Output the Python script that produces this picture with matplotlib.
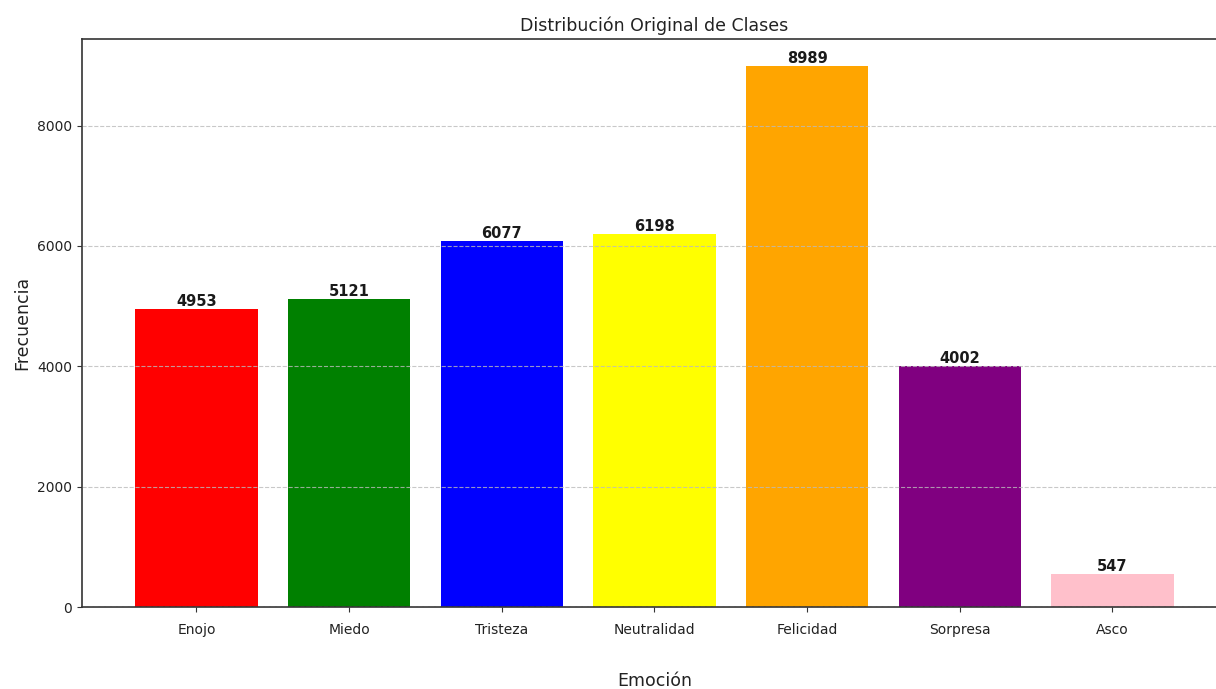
import matplotlib
matplotlib.use("Agg")
import matplotlib.pyplot as plt

# Class counts per emotion
emociones = ["Enojo", "Miedo", "Tristeza", "Neutralidad", "Felicidad", "Sorpresa", "Asco"]
frecuencias = [4953, 5121, 6077, 6198, 8989, 4002, 547]
colores = ["red", "green", "blue", "yellow", "orange", "purple", "pink"]

plt.rcParams["font.family"] = ["DejaVu Sans"]

fig = plt.figure(figsize=(12.16, 6.89), dpi=100)
ax = fig.add_axes([0.0674, 0.119, 0.9416, 0.8244])

x = range(len(emociones))
bars = ax.bar(x, frecuencias, color=colores, width=0.8)

for rect, val in zip(bars, frecuencias):
    ax.text(rect.get_x() + rect.get_width() / 2, val, str(val),
            ha="center", va="bottom", fontsize=10.5, fontweight="bold",
            color="#1a1a1a")

ax.set_xticks(list(x))
ax.set_xticklabels(emociones, fontsize=10, color="#222222")
ax.set_xlim(-0.75, 6.75)
ax.tick_params(axis="x", pad=8, color="#333333")
ax.tick_params(axis="y", labelsize=10, color="#333333", labelcolor="#222222")

for spine in ax.spines.values():
    spine.set_color("#333333")
    spine.set_linewidth(1.2)

ax.yaxis.grid(True, linestyle="--", color="#bbbbbb", alpha=0.8)
ax.set_axisbelow(False)

ax.set_title("Distribución Original de Clases", fontsize=12.5, color="#222222", pad=6)
ax.set_xlabel("Emoción", fontsize=12.5, labelpad=25, color="#222222")
ax.set_ylabel("Frecuencia", fontsize=12.5, color="#222222")

fig.savefig("out.png", dpi=100)
